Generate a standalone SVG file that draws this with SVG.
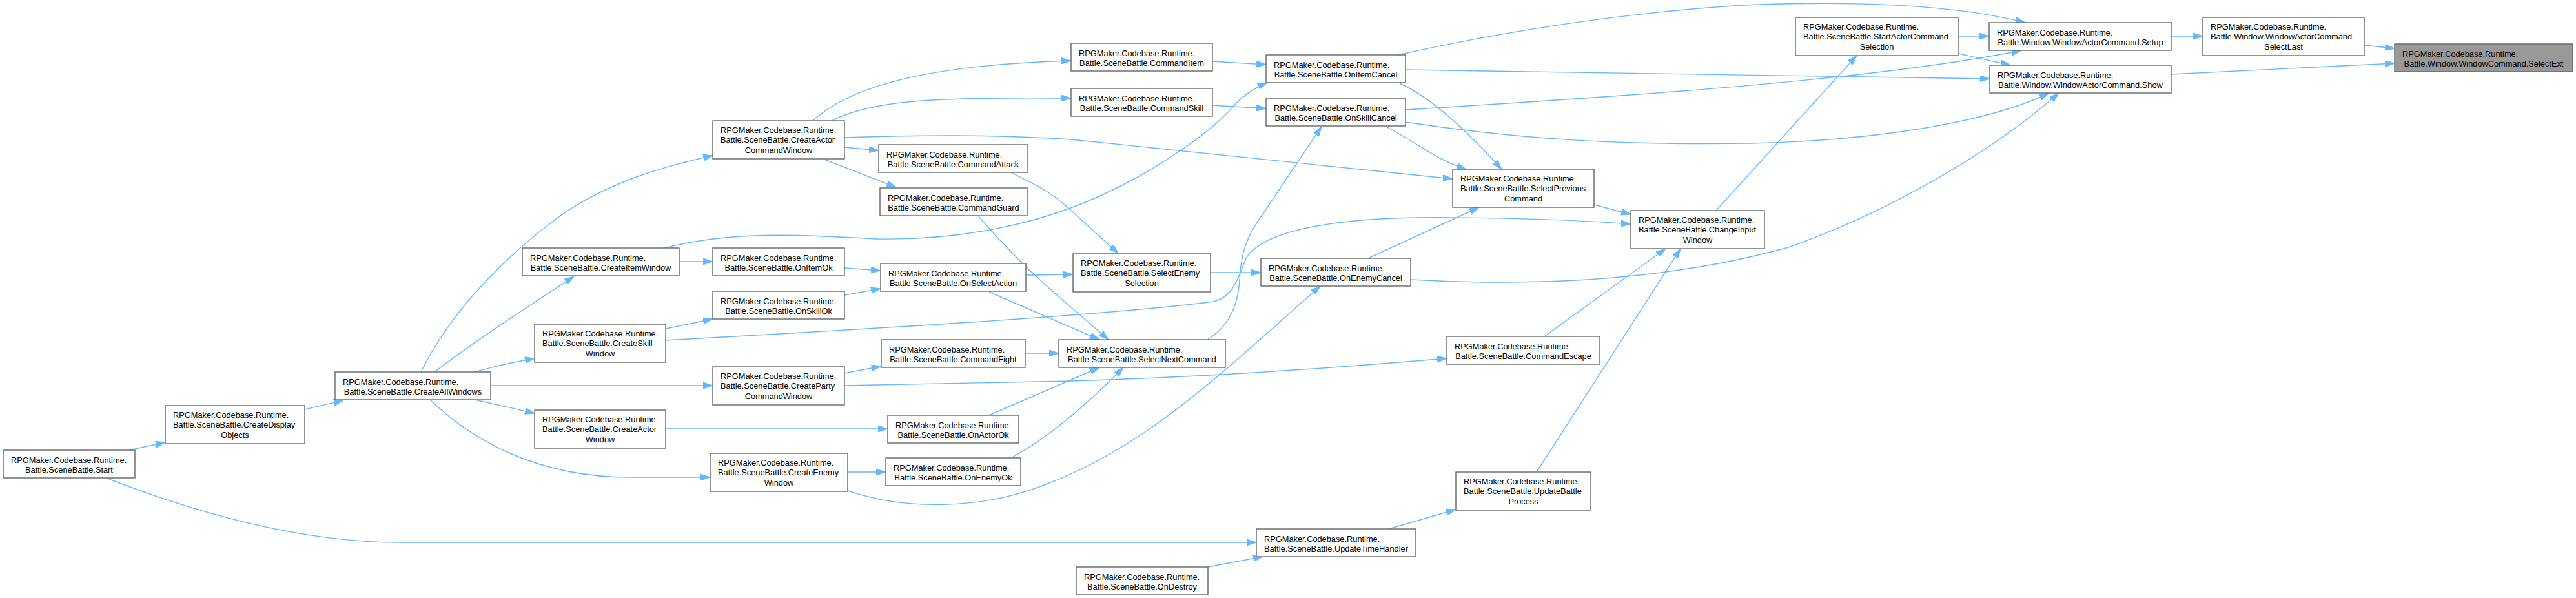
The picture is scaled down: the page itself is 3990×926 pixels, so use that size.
<svg xmlns="http://www.w3.org/2000/svg" width="3990" height="926" viewBox="0 0 3990 926">
<defs>
<style>
.n rect{fill:#fff;stroke:#666;stroke-width:1.4}
.n.f rect{fill:#999}
.n text{font-family:"Liberation Sans",Arial,sans-serif;font-size:12.8px;fill:#000}
.n text.c{text-anchor:middle}
#edges path{fill:none;stroke:#63b8ff;stroke-width:1.4;marker-end:url(#a)}
</style>
<marker id="a" viewBox="0 0 15 10" refX="15" refY="5" markerWidth="15" markerHeight="10" markerUnits="userSpaceOnUse" orient="auto">
<path d="M0,0 L15,5 L0,10 z" fill="#63b8ff" stroke="#63b8ff" stroke-width="1"/>
</marker>
</defs>
<rect x="0" y="0" width="3990" height="926" fill="#fff"/>
<g id="edges">
<path d="M200,697 L256,685"/>
<path d="M164,740 C280,785 450,840 620,840 L1946,840"/>
<path d="M472,634 L532,620"/>
<path d="M652,576 C700,480 780,400 860,340 S1040,255 1104,241"/>
<path d="M673,576 C730,532 810,480 889,428"/>
<path d="M735,576 C770,566 800,560 828,555"/>
<path d="M760,597 L1104,597"/>
<path d="M735,619 C770,627 800,633 828,640"/>
<path d="M666,619 C730,680 830,740 980,739 L1100,739"/>
<path d="M1259,187 C1320,130 1450,100 1659,94"/>
<path d="M1288,187 C1350,155 1450,150 1659,152"/>
<path d="M1308,228 L1361,233"/>
<path d="M1277,247 L1388,290"/>
<path d="M1308,213 C1430,209 1530,208 1660,216 L2250,277"/>
<path d="M1052,405 L1104,405"/>
<path d="M1030,384 C1140,355 1260,365 1360,370 C1480,372 1600,350 1700,305 C1800,260 1880,200 1910,165 Q1930,142 1963,128"/>
<path d="M1308,415 L1364,419"/>
<path d="M1308,457 L1364,447"/>
<path d="M1031,509 L1104,494"/>
<path d="M1031,527 C1300,512 1700,490 1880,467 C1910,460 1918,430 1930,400 C1960,350 2100,335 2250,337 C2380,338 2460,342 2526,347"/>
<path d="M1308,578 L1365,567"/>
<path d="M1308,597 L1660,590 C1850,584 2000,575 2241,555"/>
<path d="M1588,547 L1640,547"/>
<path d="M1031,664 L1375,664"/>
<path d="M1532,643 L1703,569"/>
<path d="M1566,709 C1620,680 1680,630 1740,569"/>
<path d="M1313,731 L1372,731"/>
<path d="M1314,760 C1400,790 1520,790 1620,750 C1780,690 1900,570 2045,443"/>
<path d="M1871,878 L1956,862"/>
<path d="M2151,819 L2255,789"/>
<path d="M1878,95 L1961,100"/>
<path d="M1878,163 L1961,168"/>
<path d="M1566,267 C1600,285 1620,292 1650,318 L1732,392"/>
<path d="M1515,334 C1550,375 1590,415 1620,442 L1717,526"/>
<path d="M1589,426 L1662,425"/>
<path d="M1875,422 L1953,422"/>
<path d="M1532,452 L1703,526"/>
<path d="M1870,526 C1905,505 1918,470 1920,433 C1922,395 1930,365 1957,330 L2047,196"/>
<path d="M2165,85 C2300,55 2480,22 2700,8 C2850,2 3020,5 3137,35"/>
<path d="M2177,108 C2500,114 2800,116 3082,122"/>
<path d="M2168,129 C2215,150 2270,200 2326,262"/>
<path d="M2177,170 C2500,150 2900,125 3131,78"/>
<path d="M2177,189 C2350,215 2500,225 2712,222 C2900,218 3080,190 3174,144"/>
<path d="M2147,196 C2210,230 2220,245 2271,262"/>
<path d="M2469,317 L2526,332"/>
<path d="M2119,400 L2291,321"/>
<path d="M2185,433 C2400,445 2600,430 2770,383 C2920,330 3080,240 3189,144"/>
<path d="M2392,521 L2580,385"/>
<path d="M2380,731 L2603,385"/>
<path d="M2658,326 L2876,86"/>
<path d="M3033,56 L3081,56"/>
<path d="M3034,83 L3114,101"/>
<path d="M3364,56 L3412,56"/>
<path d="M3363,115 L3709,98"/>
<path d="M3662,70 L3709,75"/>
</g>
<g id="start" class="n"><rect x="5" y="697" width="204" height="43"/><text x="17" y="716.5">RPGMaker.Codebase.Runtime.</text><text class="c" x="107" y="732">Battle.SceneBattle.Start</text></g>
<g id="createDisplayObjects" class="n"><rect x="256" y="628" width="216" height="59"/><text x="268" y="646.7">RPGMaker.Codebase.Runtime.</text><text x="268" y="662.2">Battle.SceneBattle.CreateDisplay</text><text class="c" x="364" y="677.7">Objects</text></g>
<g id="createAllWindows" class="n"><rect x="519" y="576" width="241" height="43"/><text x="531" y="595.5">RPGMaker.Codebase.Runtime.</text><text class="c" x="639.5" y="611">Battle.SceneBattle.CreateAllWindows</text></g>
<g id="createActorCommandWindow" class="n"><rect x="1104" y="187" width="204" height="59"/><text x="1116" y="205.7">RPGMaker.Codebase.Runtime.</text><text x="1116" y="221.2">Battle.SceneBattle.CreateActor</text><text class="c" x="1206" y="236.7">CommandWindow</text></g>
<g id="commandAttack" class="n"><rect x="1361" y="224" width="231" height="43"/><text x="1373" y="243.5">RPGMaker.Codebase.Runtime.</text><text class="c" x="1476.5" y="259">Battle.SceneBattle.CommandAttack</text></g>
<g id="commandGuard" class="n"><rect x="1363" y="291" width="228" height="43"/><text x="1375" y="310.5">RPGMaker.Codebase.Runtime.</text><text class="c" x="1477" y="326">Battle.SceneBattle.CommandGuard</text></g>
<g id="createItemWindow" class="n"><rect x="809" y="384" width="243" height="43"/><text x="821" y="403.5">RPGMaker.Codebase.Runtime.</text><text class="c" x="930.5" y="419">Battle.SceneBattle.CreateItemWindow</text></g>
<g id="onItemOk" class="n"><rect x="1104" y="384" width="204" height="43"/><text x="1116" y="403.5">RPGMaker.Codebase.Runtime.</text><text class="c" x="1206" y="419">Battle.SceneBattle.OnItemOk</text></g>
<g id="onSelectAction" class="n"><rect x="1364" y="408" width="225" height="43"/><text x="1376" y="427.5">RPGMaker.Codebase.Runtime.</text><text class="c" x="1476.5" y="443">Battle.SceneBattle.OnSelectAction</text></g>
<g id="commandItem" class="n"><rect x="1659" y="67" width="219" height="43"/><text x="1671" y="86.5">RPGMaker.Codebase.Runtime.</text><text class="c" x="1768.5" y="102">Battle.SceneBattle.CommandItem</text></g>
<g id="commandSkill" class="n"><rect x="1659" y="137" width="219" height="43"/><text x="1671" y="156.5">RPGMaker.Codebase.Runtime.</text><text class="c" x="1768.5" y="172">Battle.SceneBattle.CommandSkill</text></g>
<g id="onSkillOk" class="n"><rect x="1104" y="451" width="204" height="43"/><text x="1116" y="470.5">RPGMaker.Codebase.Runtime.</text><text class="c" x="1206" y="486">Battle.SceneBattle.OnSkillOk</text></g>
<g id="createSkillWindow" class="n"><rect x="828" y="502" width="203" height="59"/><text x="840" y="520.7">RPGMaker.Codebase.Runtime.</text><text x="840" y="536.2">Battle.SceneBattle.CreateSkill</text><text class="c" x="929.5" y="551.7">Window</text></g>
<g id="commandFight" class="n"><rect x="1365" y="526" width="223" height="43"/><text x="1377" y="545.5">RPGMaker.Codebase.Runtime.</text><text class="c" x="1476.5" y="561">Battle.SceneBattle.CommandFight</text></g>
<g id="createPartyCommandWindow" class="n"><rect x="1104" y="568" width="204" height="59"/><text x="1116" y="586.7">RPGMaker.Codebase.Runtime.</text><text x="1116" y="602.2">Battle.SceneBattle.CreateParty</text><text class="c" x="1206" y="617.7">CommandWindow</text></g>
<g id="createActorWindow" class="n"><rect x="828" y="635" width="203" height="59"/><text x="840" y="653.7">RPGMaker.Codebase.Runtime.</text><text x="840" y="669.2">Battle.SceneBattle.CreateActor</text><text class="c" x="929.5" y="684.7">Window</text></g>
<g id="onActorOk" class="n"><rect x="1375" y="643" width="203" height="43"/><text x="1387" y="662.5">RPGMaker.Codebase.Runtime.</text><text class="c" x="1476.5" y="678">Battle.SceneBattle.OnActorOk</text></g>
<g id="createEnemyWindow" class="n"><rect x="1100" y="702" width="213" height="59"/><text x="1112" y="720.7">RPGMaker.Codebase.Runtime.</text><text x="1112" y="736.2">Battle.SceneBattle.CreateEnemy</text><text class="c" x="1206.5" y="751.7">Window</text></g>
<g id="onEnemyOk" class="n"><rect x="1372" y="709" width="209" height="43"/><text x="1384" y="728.5">RPGMaker.Codebase.Runtime.</text><text class="c" x="1476.5" y="744">Battle.SceneBattle.OnEnemyOk</text></g>
<g id="onItemCancel" class="n"><rect x="1961" y="85" width="216" height="43"/><text x="1973" y="104.5">RPGMaker.Codebase.Runtime.</text><text class="c" x="2069" y="120">Battle.SceneBattle.OnItemCancel</text></g>
<g id="onSkillCancel" class="n"><rect x="1961" y="152" width="216" height="43"/><text x="1973" y="171.5">RPGMaker.Codebase.Runtime.</text><text class="c" x="2069" y="187">Battle.SceneBattle.OnSkillCancel</text></g>
<g id="selectPreviousCommand" class="n"><rect x="2250" y="262" width="219" height="59"/><text x="2262" y="280.7">RPGMaker.Codebase.Runtime.</text><text x="2262" y="296.2">Battle.SceneBattle.SelectPrevious</text><text class="c" x="2359.5" y="311.7">Command</text></g>
<g id="selectEnemySelection" class="n"><rect x="1662" y="393" width="213" height="59"/><text x="1674" y="411.7">RPGMaker.Codebase.Runtime.</text><text x="1674" y="427.2">Battle.SceneBattle.SelectEnemy</text><text class="c" x="1768.5" y="442.7">Selection</text></g>
<g id="onEnemyCancel" class="n"><rect x="1953" y="400" width="232" height="43"/><text x="1965" y="419.5">RPGMaker.Codebase.Runtime.</text><text class="c" x="2069" y="435">Battle.SceneBattle.OnEnemyCancel</text></g>
<g id="selectNextCommand" class="n"><rect x="1640" y="526" width="258" height="43"/><text x="1652" y="545.5">RPGMaker.Codebase.Runtime.</text><text class="c" x="1769" y="561">Battle.SceneBattle.SelectNextCommand</text></g>
<g id="commandEscape" class="n"><rect x="2241" y="521" width="237" height="43"/><text x="2253" y="540.5">RPGMaker.Codebase.Runtime.</text><text class="c" x="2359.5" y="556">Battle.SceneBattle.CommandEscape</text></g>
<g id="updateBattleProcess" class="n"><rect x="2255" y="731" width="209" height="59"/><text x="2267" y="749.7">RPGMaker.Codebase.Runtime.</text><text x="2267" y="765.2">Battle.SceneBattle.UpdateBattle</text><text class="c" x="2359.5" y="780.7">Process</text></g>
<g id="updateTimeHandler" class="n"><rect x="1946" y="819" width="247" height="43"/><text x="1958" y="838.5">RPGMaker.Codebase.Runtime.</text><text class="c" x="2069.5" y="854">Battle.SceneBattle.UpdateTimeHandler</text></g>
<g id="onDestroy" class="n"><rect x="1667" y="878" width="204" height="43"/><text x="1679" y="897.5">RPGMaker.Codebase.Runtime.</text><text class="c" x="1769" y="913">Battle.SceneBattle.OnDestroy</text></g>
<g id="changeInputWindow" class="n"><rect x="2526" y="326" width="207" height="59"/><text x="2538" y="344.7">RPGMaker.Codebase.Runtime.</text><text x="2538" y="360.2">Battle.SceneBattle.ChangeInput</text><text class="c" x="2629.5" y="375.7">Window</text></g>
<g id="startActorCommandSelection" class="n"><rect x="2781" y="27" width="252" height="59"/><text x="2793" y="45.7">RPGMaker.Codebase.Runtime.</text><text x="2793" y="61.2">Battle.SceneBattle.StartActorCommand</text><text class="c" x="2907" y="76.7">Selection</text></g>
<g id="windowActorCommandSetup" class="n"><rect x="3081" y="35" width="283" height="43"/><text x="3093" y="54.5">RPGMaker.Codebase.Runtime.</text><text class="c" x="3222.5" y="70">Battle.Window.WindowActorCommand.Setup</text></g>
<g id="windowActorCommandShow" class="n"><rect x="3082" y="101" width="281" height="43"/><text x="3094" y="120.5">RPGMaker.Codebase.Runtime.</text><text class="c" x="3222.5" y="136">Battle.Window.WindowActorCommand.Show</text></g>
<g id="windowActorCommandSelectLast" class="n"><rect x="3412" y="27" width="250" height="59"/><text x="3424" y="45.7">RPGMaker.Codebase.Runtime.</text><text x="3424" y="61.2">Battle.Window.WindowActorCommand.</text><text class="c" x="3537" y="76.7">SelectLast</text></g>
<g id="windowCommandSelectExt" class="n f"><rect x="3709" y="68" width="276" height="43"/><text x="3721" y="87.5">RPGMaker.Codebase.Runtime.</text><text class="c" x="3847" y="103">Battle.Window.WindowCommand.SelectExt</text></g>
</svg>
